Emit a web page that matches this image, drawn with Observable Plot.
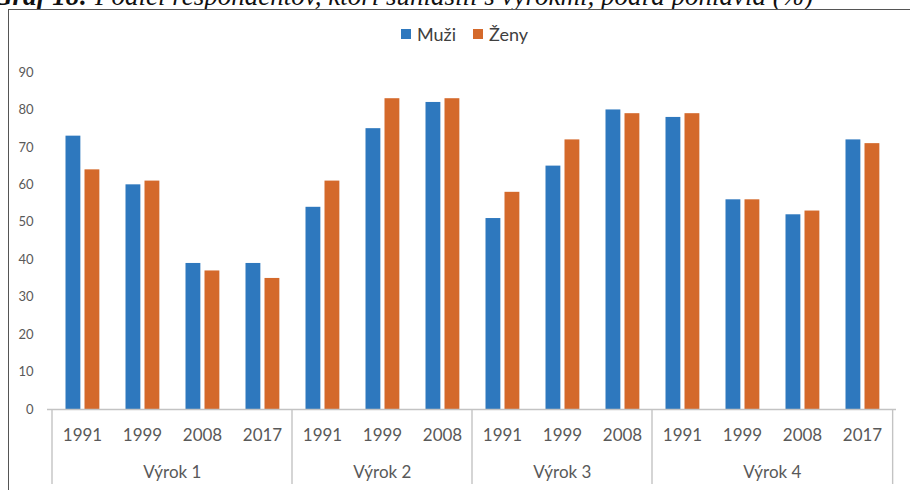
<!DOCTYPE html>
<html><head><meta charset="utf-8">
<script src="https://cdn.jsdelivr.net/npm/d3@7"></script>
<script src="https://cdn.jsdelivr.net/npm/@observablehq/plot@0.6"></script>
<style>
html,body{margin:0;padding:0;background:#fff;}
#wrap{position:relative;width:910px;height:490px;overflow:hidden;background:#fff;}
#title{position:absolute;left:-7px;top:-17px;font-family:"Liberation Serif",serif;font-style:italic;font-size:27px;line-height:27px;white-space:nowrap;color:#111;}
#frame{position:absolute;left:8px;top:9px;width:1000px;height:1000px;border-left:1.5px solid #555;border-top:1.5px solid #555;background:#fff;}
#legend{position:absolute;left:401px;top:23px;display:flex;align-items:center;font-family:Lato,sans-serif;font-size:18px;color:#404040;}
#legend .item{display:flex;align-items:center;margin-right:17px;}
#legend .sw{width:10px;height:10px;display:inline-block;margin-right:6px;}
#chart{position:absolute;left:0;top:50px;}
</style></head>
<body><div id="wrap"><div id="title"></div><div id="frame"></div><div id="legend"></div><div id="chart"></div></div>
<script>
// ---- data ----
const titleBold = "Graf 18:";
const titleRest = " Podiel respondentov, ktorí súhlasili s výrokmi, podľa pohlavia (%)";
const series = ["Muži", "Ženy"];
const colors = ["#2E78BE", "#D4692B"];
const groups = ["Výrok 1", "Výrok 2", "Výrok 3", "Výrok 4"];
const groupOf = ["Výrok 1","Výrok 1","Výrok 1","Výrok 1","Výrok 2","Výrok 2","Výrok 2","Výrok 3","Výrok 3","Výrok 3","Výrok 4","Výrok 4","Výrok 4","Výrok 4"];
const years   = ["1991","1999","2008","2017","1991","1999","2008","1991","1999","2008","1991","1999","2008","2017"];
const muzi    = [73, 60, 39, 39, 54, 75, 82, 51, 65, 80, 78, 56, 52, 72];
const zeny    = [64, 61, 37, 35, 61, 83, 83, 58, 72, 79, 79, 56, 53, 71];
const yTicks  = [0, 10, 20, 30, 40, 50, 60, 70, 80, 90];

// ---- title & legend (HTML) ----
const t = document.getElementById("title");
const b = document.createElement("b"); b.textContent = titleBold; t.appendChild(b);
t.appendChild(document.createTextNode(titleRest));
const lg = document.getElementById("legend");
series.forEach((s, i) => {
  const it = document.createElement("span"); it.className = "item";
  const sw = document.createElement("span"); sw.className = "sw"; sw.style.background = colors[i];
  it.appendChild(sw); it.appendChild(document.createTextNode(s)); lg.appendChild(it);
});

// ---- chart ----
const W = 910, H = 440, ML = 47, MR = 14, MT = 22, MB = 81;
const keys = years.map((y, i) => groupOf[i] + "|" + y);
const bw = (W - ML - MR) / keys.length;
const rows = keys.flatMap((k, i) => [
  {key: k, sex: series[0], value: muzi[i]},
  {key: k, sex: series[1], value: zeny[i]}
]);
const gray = "#c3c3c3";

function groupAxis(index, scales, values, dim) {
  const g = d3.create("svg:g");
  const y0 = dim.height - dim.marginBottom;
  const x = scales.x;
  const edges = [];
  groups.forEach(gr => {
    const ks = keys.filter(k => k.startsWith(gr + "|"));
    const x1 = x(ks[0]), x2 = x(ks[ks.length - 1]) + bw;
    edges.push(x1);
    g.append("text").attr("x", (x1 + x2) / 2).attr("y", y0 + 69)
      .attr("text-anchor", "middle").attr("font-size", 17).attr("fill", "#595959")
      .text(gr);
    if (gr === groups[groups.length - 1]) edges.push(x2);
  });
  edges.forEach(e => g.append("line").attr("x1", e).attr("x2", e)
    .attr("y1", y0).attr("y2", y0 + 75).attr("stroke", gray).attr("stroke-width", 1.4));
  return g.node();
}

const chart = Plot.plot({
  width: W, height: H,
  marginLeft: ML, marginRight: MR, marginTop: MT, marginBottom: MB,
  style: {fontFamily: "Lato, sans-serif", color: "#595959", background: "transparent"},
  x: {type: "band", domain: keys, padding: 0},
  y: {domain: [0, 90]},
  color: {domain: series, range: colors},
  marks: [
    Plot.barY(rows.filter(d => d.sex === series[0]), {x: "key", y: "value", fill: "sex", insetLeft: 13.5, insetRight: bw - 29}),
    Plot.barY(rows.filter(d => d.sex === series[1]), {x: "key", y: "value", fill: "sex", insetLeft: 32.5, insetRight: bw - 48}),
    Plot.ruleY([0], {stroke: gray, strokeWidth: 1.4}),
    Plot.axisY({ticks: yTicks, tickSize: 0, tickPadding: 14, fontSize: 13, label: null}),
    Plot.axisX({tickSize: 0, tickPadding: 19, fontSize: 17, label: null, tickFormat: k => k.split("|")[1]}),
    groupAxis
  ]
});
document.getElementById("chart").appendChild(chart);
</script>
</body></html>
